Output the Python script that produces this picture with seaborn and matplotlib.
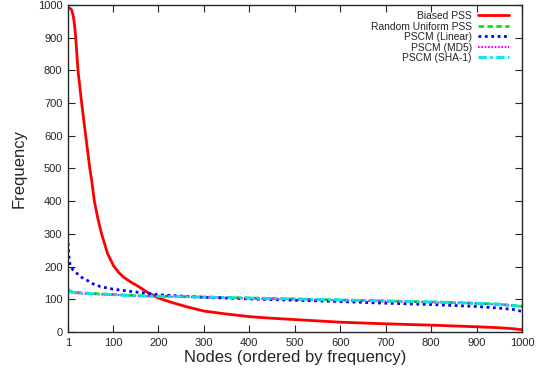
import numpy as np
import pandas as pd
import seaborn as sns
import matplotlib
matplotlib.use("Agg")
import matplotlib.pyplot as plt

# ---- data ----
biased_x = [1, 3, 5, 7, 9, 12, 14, 16, 18, 23, 31, 40, 49, 53, 59, 67, 75, 88, 101,
            112, 123, 140, 155, 175, 200, 230, 260, 300, 350, 400, 450, 500, 600, 700,
            800, 900, 950, 980, 1000]
biased_y = [992, 991, 990, 988, 985, 970, 954, 930, 900, 800, 700, 600, 500, 465, 400,
            345, 300, 240, 203, 183, 168, 152, 140, 122, 104, 90, 78, 64, 55, 47, 42,
            38, 30, 25, 21, 16, 13, 10, 7]

linear_x = [1, 2, 4, 7, 12, 20, 30, 42, 55, 72, 100, 145, 200, 300, 400, 500,
            600, 700, 800, 900, 950, 980, 1000]
linear_y = [272, 250, 215, 200, 190, 180, 168, 159, 148, 139, 131, 123, 114,
            106, 101, 97, 93, 88, 84, 78, 73, 69, 63]

unif_x = [1, 5, 10, 20, 50, 100, 160, 200, 300, 400, 500, 600, 700, 800, 900, 950, 1000]
random_y = [131, 125, 123, 121, 118, 115, 111, 110, 107, 104, 101, 98, 95, 92, 88, 85, 79]
md5_y = [122, 121, 120, 118, 116, 114, 110, 109, 106, 103, 100, 97, 94, 91, 87, 84, 77]
sha1_y = [127, 124, 122, 120, 117, 114, 110, 109, 107, 104, 101, 98, 95, 92, 88, 85, 78]

labels = ["Biased PSS", "Random Uniform PSS", "PSCM (Linear)", "PSCM (MD5)", "PSCM (SHA-1)"]
x_ticks = [1, 100, 200, 300, 400, 500, 600, 700, 800, 900, 1000]
y_ticks = [0, 100, 200, 300, 400, 500, 600, 700, 800, 900, 1000]

sns.set_style("ticks")
plt.rcParams['font.family'] = ['Liberation Sans', 'DejaVu Sans']

fig = plt.figure(figsize=(5.43, 3.77), dpi=100)
ax = fig.add_axes([68 / 543, 1 - 332 / 377, (522 - 68) / 543, (332 - 5) / 377])

series = [
    (biased_x, biased_y, labels[0], "#ff0000", "-", 2.0),
    (unif_x, random_y, labels[1], "#00ee00", (0, (2, 1.2)), 2.0),
    (linear_x, linear_y, labels[2], "#0000ff", (0, (1, 1.3)), 2.0),
    (unif_x, md5_y, labels[3], "#ff00ff", (0, (0.8, 0.8)), 1.5),
    (unif_x, sha1_y, labels[4], "#00e5ee", (0, (3, 1.2, 1, 1.2)), 2.0),
]
for xs, ys, lab, col, ls, lw in series:
    df = pd.DataFrame({"x": xs, "y": ys})
    sns.lineplot(data=df, x="x", y="y", ax=ax, color=col, linestyle=ls, linewidth=lw,
                 label=lab)

ax.set_xlim(1, 1000)
ax.set_ylim(0, 1000)
ax.set_xticks(x_ticks)
ax.set_yticks(y_ticks)
ax.tick_params(direction="in", length=5, width=0.8, labelsize=8, top=True, right=True,
               pad=4)
for s in ax.spines.values():
    s.set_linewidth(1.0)
ax.set_xlabel("Nodes (ordered by frequency)", fontsize=12, labelpad=2)
ax.set_ylabel("Frequency", fontsize=12, labelpad=8)

leg = ax.legend(loc="upper right", frameon=False, markerfirst=False, fontsize=7.4,
                handlelength=3.0, handletextpad=0.6, labelspacing=0.05,
                borderaxespad=0.0, borderpad=0.0,
                bbox_to_anchor=(1 - 13 / 454, 1 - 6 / 327))

fig.savefig("out.png", dpi=100)
